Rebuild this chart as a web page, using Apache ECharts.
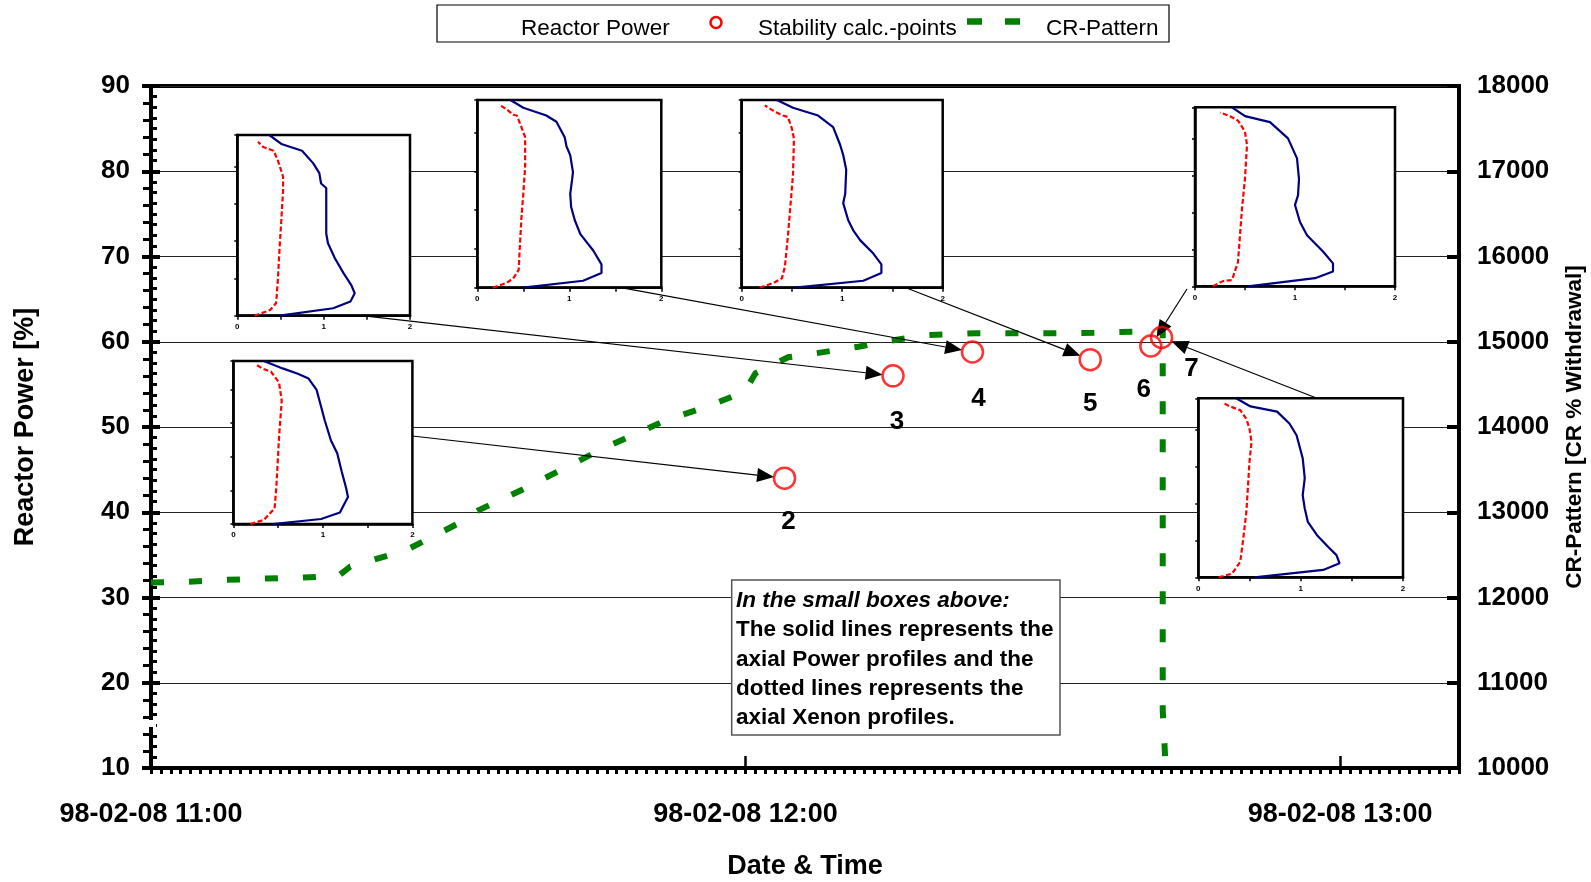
<!DOCTYPE html>
<html>
<head>
<meta charset="utf-8">
<title>Reactor Power, Stability Points and CR-Pattern</title>
<script src="https://cdn.jsdelivr.net/npm/echarts@6/dist/echarts.min.js"></script>
<style>
  html, body { margin: 0; padding: 0; background: #fff; }
  #chart { width: 1591px; height: 882px; }
</style>
</head>
<body>
<div id="chart"></div>
<script>
// ---------------- data ----------------
const timeTickLabels = ['98-02-08 11:00', '98-02-08 12:00', '98-02-08 13:00'];
const axisStart = '11:00:00';
const axisEnd = '13:12:00';

// Control rod pattern [CR % withdrawal]
const crTimes = ['11:00:00', '11:03:42', '11:07:12', '11:11:00', '11:15:06', '11:18:54', '11:20:06',
  '11:24:06', '11:26:06', '11:30:54', '11:33:06', '11:37:24', '11:42:00', '11:46:00', '11:49:48',
  '11:52:00', '11:56:06', '11:59:54', '12:01:00', '12:04:18', '12:07:06', '12:11:24', '12:14:36',
  '12:18:12', '12:20:18', '12:23:18', '12:27:24', '12:31:12', '12:35:12', '12:39:12', '12:41:24',
  '12:42:06', '12:42:06', '12:42:24'];
const crValues = [12175, 12185, 12205, 12220, 12232, 12252, 12361,
  12499, 12577, 12862, 13026, 13261, 13534, 13769, 13965,
  14082, 14238, 14414, 14630, 14818, 14865, 14942, 15012,
  15076, 15087, 15099, 15099, 15099, 15106, 15118, 15130,
  15130, 10680, 10000];

// Stability calculation points (reactor power %)
const pointNames = ['2', '3', '4', '5', '6', '7'];
const pointTimes = ['12:03:56', '12:14:53', '12:22:54', '12:34:47', '12:40:54', '12:41:59'];
const pointPower = [44.0, 56.0, 58.8, 57.9, 59.5, 60.5];

// Axial profiles at each point: [relative value, axial node]
const powerP2 = [[0.44,0],[0.98,0.74],[1.19,1.7],[1.28,4.0],[1.26,5.3],[1.21,7.8],[1.16,10.5],[1.09,12.4],[1.02,15.4],[0.98,17.4],[0.93,19.9],[0.84,21.6],[0.72,22.3],[0.55,23.1],[0.34,24.2]];
const xenonP2 = [[0.19,0],[0.34,0.6],[0.46,2.3],[0.48,5.5],[0.51,12.9],[0.54,18.3],[0.51,21.0],[0.42,22.6],[0.32,23.1],[0.25,23.7]];
const powerP3 = [[0.49,0],[1.11,1.0],[1.31,1.9],[1.36,3.0],[1.32,4.1],[1.23,5.7],[1.13,7.7],[1.05,9.7],[1.03,11.0],[1.03,17.1],[0.97,17.7],[0.95,19.1],[0.88,20.4],[0.75,22.1],[0.51,23.0],[0.37,24.2]];
const xenonP3 = [[0.20,0],[0.38,0.76],[0.45,1.7],[0.47,4.8],[0.49,9.2],[0.51,12.8],[0.53,16.8],[0.53,18.6],[0.47,20.8],[0.42,22.1],[0.30,22.6],[0.24,23.3]];
const powerP4 = [[0.50,0],[1.15,0.9],[1.35,1.9],[1.35,3.0],[1.26,4.8],[1.12,6.9],[1.06,8.7],[1.02,10.4],[1.01,12.1],[1.03,13.9],[1.04,14.9],[1.01,17.1],[0.97,18.2],[0.95,19.4],[0.86,21.4],[0.75,22.2],[0.50,23.2],[0.36,24.2]];
const xenonP4 = [[0.17,0],[0.32,0.64],[0.39,1.2],[0.45,2.3],[0.46,4.8],[0.48,9.1],[0.50,12.1],[0.52,15.6],[0.52,19.4],[0.48,20.7],[0.43,22.2],[0.39,22.3],[0.32,23.0],[0.25,23.5]];
const powerP5 = [[0.53,0],[1.21,0.9],[1.39,1.9],[1.39,3.0],[1.31,4.4],[1.18,6.1],[1.11,7.4],[1.06,8.7],[1.01,10.9],[1.03,12.1],[1.04,15.2],[1.01,17.1],[0.98,18.4],[0.91,20.7],[0.76,22.2],[0.51,23.2],[0.35,24.2]];
const xenonP5 = [[0.18,0],[0.32,0.64],[0.40,1.2],[0.43,2.7],[0.46,6.7],[0.48,9.8],[0.51,14.5],[0.52,19.2],[0.50,20.5],[0.46,22.0],[0.41,22.2],[0.33,22.7],[0.23,23.5]];
const powerP6 = [[0.53,0],[1.20,1.1],[1.38,2.0],[1.38,3.1],[1.28,4.7],[1.12,6.9],[1.05,8.7],[1.00,11.0],[1.03,12.3],[1.04,14.5],[1.02,17.3],[0.93,20.0],[0.75,22.2],[0.50,23.0],[0.37,24.2]];
const xenonP6 = [[0.18,0],[0.28,0.7],[0.37,0.85],[0.43,3.3],[0.45,6.9],[0.47,10.5],[0.50,14.6],[0.52,19.1],[0.50,20.9],[0.43,22.4],[0.35,23.0],[0.25,23.5]];
const powerP7 = [[0.55,0],[1.22,1.0],[1.38,1.9],[1.35,3.0],[1.27,4.1],[1.16,5.7],[1.07,7.5],[1.04,9.3],[1.02,11.1],[1.04,13.4],[1.02,16.1],[0.96,19.2],[0.89,20.8],[0.77,22.4],[0.51,23.1],[0.37,24.2]];
const xenonP7 = [[0.20,0],[0.33,0.5],[0.41,2.1],[0.44,5.3],[0.47,8.9],[0.50,15.6],[0.52,18.3],[0.50,20.1],[0.47,21.4],[0.41,22.6],[0.31,23.1],[0.24,23.6]];

const powerProfiles = [powerP2, powerP3, powerP4, powerP5, powerP6, powerP7];
const xenonProfiles = [xenonP2, xenonP3, xenonP4, xenonP5, xenonP6, xenonP7];

const noteLines = [
  'In the small boxes above:',
  'The solid lines represents the',
  'axial Power profiles and the',
  'dotted lines represents the',
  'axial Xenon profiles.'
];

// ---------------- layout ----------------
const FONT = "'Liberation Sans', Arial, Helvetica, sans-serif";
const MAIN = { left: 151, top: 86, width: 1308, height: 682 };
// profile boxes [left, top, width, height], one per stability point
const insetBoxes = [
  [233.4, 361, 179, 163],
  [237.3, 135, 172.7, 180.7],
  [477.3, 100, 184, 187.7],
  [741.7, 100, 201, 187.7],
  [1195, 107.3, 200, 179],
  [1198.3, 398.3, 204.7, 179]
];
// where each arrow leaves its box, as fractions of the box
const arrowAnchors = [[1, 0.46], [0.722, 1], [0.781, 1], [0.817, 1], [-0.04, 1.015], [0.58, 0]];
// point-number label shift below each circle
const labelOffsets = [[4, 14], [4, 16], [6, 17], [0, 14], [-7, 14], [30, 2]];
const CIRCLE_R = 10.5;
// tick labels sit slightly below their ticks (in axis units)
const POWER_LABEL_DROP = 0.6;
const CR_LABEL_DROP = 60;

function toMin(t) {
  const p = t.split(':').map(Number);
  return (p[0] - 11) * 60 + p[1] + (p[2] || 0) / 60;
}

const xMin = toMin(axisStart);
const xMax = toMin(axisEnd);
const crData = crTimes.map((t, i) => [toMin(t), crValues[i]]);
const pointData = pointTimes.map((t, i) => ({
  value: [toMin(t), pointPower[i]],
  name: pointNames[i],
  label: { offset: labelOffsets[i] }
}));

const bold = (size) => ({ fontFamily: FONT, fontWeight: 'bold', fontSize: size, color: '#000' });

// ---------------- grids & axes ----------------
const grids = [{
  left: MAIN.left, top: MAIN.top, width: MAIN.width, height: MAIN.height,
  show: true, borderColor: '#000', borderWidth: 4, backgroundColor: 'transparent',
  containLabel: false, outerBoundsMode: 'none'
}];
insetBoxes.forEach(b => grids.push({
  left: b[0], top: b[1], width: b[2], height: b[3],
  show: true, backgroundColor: '#fff', borderColor: '#000', borderWidth: 2.5,
  containLabel: false, outerBoundsMode: 'none', z: 5
}));

const xAxes = [
  { // time axis: 12-minute steps with one-minute minor ticks, labels on the hour
    type: 'value', gridIndex: 0, min: xMin, max: xMax, interval: 12,
    axisLine: { show: true, lineStyle: { color: '#000', width: 4 } },
    axisTick: { show: true, length: 6, lineStyle: { color: '#000', width: 3 } },
    minorTick: { show: true, splitNumber: 12, length: 6, lineStyle: { color: '#000', width: 3 } },
    axisLabel: {
      ...bold(27), margin: 33, showMinLabel: true, showMaxLabel: false,
      formatter: v => (Math.abs(v % 60) < 1e-6 ? timeTickLabels[Math.round(v / 60)] || '' : '')
    },
    splitLine: { show: false },
    name: 'Date & Time', nameLocation: 'middle', nameGap: 85, nameMoveOverlap: false,
    nameTextStyle: bold(27)
  },
  { // hour ticks
    type: 'value', gridIndex: 0, min: xMin, max: xMax, interval: 60, position: 'bottom',
    axisLine: { show: false },
    axisTick: { show: true, inside: true, length: 12, lineStyle: { color: '#000', width: 2.5 } },
    axisLabel: { show: false }, splitLine: { show: false }
  }
];

const yAxes = [
  { // 0: reactor power
    type: 'value', gridIndex: 0, position: 'left', min: 10, max: 90, interval: 10,
    axisLine: { show: true, lineStyle: { color: '#000', width: 4 } },
    axisTick: { show: true, length: 9, lineStyle: { color: '#000', width: 4 } },
    minorTick: { show: true, splitNumber: 5, length: 8, lineStyle: { color: '#000', width: 3 } },
    axisLabel: { show: false },
    splitLine: { show: true, lineStyle: { color: '#222', width: 1 } },
    name: 'Reactor Power [%]', nameLocation: 'middle', nameGap: 112, nameMoveOverlap: false,
    nameTextStyle: bold(27)
  },
  { // 1: control rod pattern
    type: 'value', gridIndex: 0, position: 'right', min: 10000, max: 18000, interval: 1000,
    axisLine: { show: true, lineStyle: { color: '#000', width: 4 } },
    axisTick: { show: true, length: 6, lineStyle: { color: '#000', width: 3 } },
    minorTick: { show: true, splitNumber: 8, length: 6, lineStyle: { color: '#000', width: 3 } },
    axisLabel: { show: false },
    splitLine: { show: false },
    name: 'CR-Pattern [CR % Withdrawal]', nameLocation: 'middle', nameGap: 104, nameMoveOverlap: false,
    nameTextStyle: bold(22.5)
  },
  { // 2: inner half of the power major ticks
    type: 'value', gridIndex: 0, position: 'left', min: 10, max: 90, interval: 10,
    axisLine: { show: false },
    axisTick: { show: true, inside: true, length: 9, lineStyle: { color: '#000', width: 4 } },
    axisLabel: { show: false }, splitLine: { show: false }
  },
  { // 3: inner half of the CR major ticks
    type: 'value', gridIndex: 0, position: 'right', min: 10000, max: 18000, interval: 1000,
    axisLine: { show: false },
    axisTick: { show: true, inside: true, length: 12, lineStyle: { color: '#000', width: 4 } },
    axisLabel: { show: false }, splitLine: { show: false }
  },
  { // 4: power tick labels
    type: 'value', gridIndex: 0, position: 'left',
    min: 10 + POWER_LABEL_DROP, max: 90 + POWER_LABEL_DROP, interval: 10,
    axisLine: { show: false }, axisTick: { show: false }, splitLine: { show: false },
    axisLabel: { ...bold(26), margin: 21, showMinLabel: true, showMaxLabel: true,
      formatter: v => String(Math.round(v - POWER_LABEL_DROP)) }
  },
  { // 5: CR tick labels
    type: 'value', gridIndex: 0, position: 'right',
    min: 10000 + CR_LABEL_DROP, max: 18000 + CR_LABEL_DROP, interval: 1000,
    axisLine: { show: false }, axisTick: { show: false }, splitLine: { show: false },
    axisLabel: { ...bold(26), margin: 18, showMinLabel: true, showMaxLabel: true,
      formatter: v => String(Math.round(v - CR_LABEL_DROP)) }
  }
];
const INSET_Y0 = yAxes.length;

insetBoxes.forEach((b, i) => {
  xAxes.push({
    type: 'value', gridIndex: i + 1, min: 0, max: 2, interval: 0.5, z: 6,
    axisLine: { show: true, lineStyle: { color: '#000', width: 2.5 } },
    axisTick: { show: true, length: 4, lineStyle: { color: '#000', width: 1.5 } },
    axisLabel: {
      ...bold(8), margin: 7, showMinLabel: true, showMaxLabel: true,
      formatter: v => (Math.abs(v - Math.round(v)) < 1e-6 ? String(Math.round(v)) : '')
    },
    splitLine: { show: false }
  });
  yAxes.push({
    type: 'value', gridIndex: i + 1, min: 0, max: 24.2, interval: 5, z: 6,
    axisLine: { show: true, lineStyle: { color: '#000', width: 2.5 } },
    axisTick: { show: true, length: 3, lineStyle: { color: '#000', width: 1.5 } },
    axisLabel: { show: false },
    splitLine: { show: false }
  });
});

// ---------------- series ----------------
const series = [
  {
    name: 'CR-Pattern', type: 'line', xAxisIndex: 0, yAxisIndex: 1,
    data: crData, symbol: 'none', z: 3,
    lineStyle: { color: '#008000', width: 6, type: [13, 25], cap: 'butt', join: 'miter' }
  },
  {
    name: 'Stability calc.-points', type: 'scatter', xAxisIndex: 0, yAxisIndex: 0,
    data: pointData, symbol: 'circle', symbolSize: CIRCLE_R * 2, z: 4,
    itemStyle: { color: 'rgba(0,0,0,0)', borderColor: '#ff0000', borderWidth: 2.5 },
    label: { show: true, position: 'bottom', distance: 5, formatter: p => p.name, ...bold(26),
      textBorderWidth: 0, opacity: 1 }
  }
];
insetBoxes.forEach((b, i) => {
  series.push({
    name: 'Xenon ' + pointNames[i], type: 'line', xAxisIndex: i + 2, yAxisIndex: INSET_Y0 + i,
    data: xenonProfiles[i], symbol: 'none', z: 7,
    lineStyle: { color: '#ff0000', width: 2.2, type: [5, 2.5] }
  });
  series.push({
    name: 'Power ' + pointNames[i], type: 'line', xAxisIndex: i + 2, yAxisIndex: INSET_Y0 + i,
    data: powerProfiles[i], symbol: 'none', z: 7,
    lineStyle: { color: '#000080', width: 2.2 }
  });
});

const chart = echarts.init(document.getElementById('chart'), null, { renderer: 'canvas' });
chart.setOption({
  animation: false,
  backgroundColor: '#fff',
  grid: grids,
  xAxis: xAxes,
  yAxis: yAxes,
  series: series
});

// ---------------- legend, note box, arrows ----------------
const graphics = [];
const legendFont = { fontFamily: FONT, fontSize: 22.5, fill: '#000', verticalAlign: 'middle' };
graphics.push(
  { type: 'rect', shape: { x: 437, y: 5, width: 732, height: 37 }, style: { fill: '#fff', stroke: '#000', lineWidth: 1.2 }, z: 10 },
  { type: 'text', x: 521, y: 28.5, style: { text: 'Reactor Power', ...legendFont }, z: 11 },
  { type: 'circle', shape: { cx: 716, cy: 22.5, r: 5.5 }, style: { fill: 'none', stroke: '#ff0000', lineWidth: 2.5 }, z: 11 },
  { type: 'text', x: 758, y: 28.5, style: { text: 'Stability calc.-points', ...legendFont }, z: 11 },
  { type: 'line', shape: { x1: 967, y1: 21.5, x2: 1021, y2: 21.5 }, style: { stroke: '#008000', lineWidth: 6.5, lineDash: [15, 23] }, z: 11 },
  { type: 'text', x: 1046, y: 28.5, style: { text: 'CR-Pattern', ...legendFont }, z: 11 }
);

graphics.push({ type: 'rect', shape: { x: 731.7, y: 580, width: 328.3, height: 155 },
  style: { fill: '#fff', stroke: '#555', lineWidth: 1.5 }, z: 10 });
noteLines.forEach((line, i) => graphics.push({
  type: 'text', x: 736, y: 601 + i * 29.2, z: 11,
  style: { text: line, fontFamily: FONT, fontSize: 22.5, fontWeight: 'bold',
    fontStyle: i === 0 ? 'italic' : 'normal', fill: '#000', verticalAlign: 'middle' }
}));

pointData.forEach((p, i) => {
  const c = chart.convertToPixel({ xAxisIndex: 0, yAxisIndex: 0 }, p.value);
  const b = insetBoxes[i];
  const s = [b[0] + arrowAnchors[i][0] * b[2], b[1] + arrowAnchors[i][1] * b[3]];
  const dx = s[0] - c[0], dy = s[1] - c[1];
  const len = Math.hypot(dx, dy);
  const ux = dx / len, uy = dy / len;
  const tip = [c[0] + ux * CIRCLE_R, c[1] + uy * CIRCLE_R];
  const headLen = 17, headHalf = 7;
  const base = [tip[0] + ux * headLen, tip[1] + uy * headLen];
  graphics.push({
    type: 'line', z: 4,
    shape: { x1: s[0], y1: s[1], x2: base[0], y2: base[1] },
    style: { stroke: '#000', lineWidth: 1.2 }
  });
  graphics.push({
    type: 'polygon', z: 4,
    shape: { points: [tip, [base[0] - uy * headHalf, base[1] + ux * headHalf], [base[0] + uy * headHalf, base[1] - ux * headHalf]] },
    style: { fill: '#000' }
  });
});

// small break in the power axis line between 10 and 20
graphics.push({ type: 'rect', shape: { x: 146, y: 720, width: 10, height: 7 }, style: { fill: '#fff' }, z: 12 });

chart.setOption({ graphic: graphics });
</script>
</body>
</html>
